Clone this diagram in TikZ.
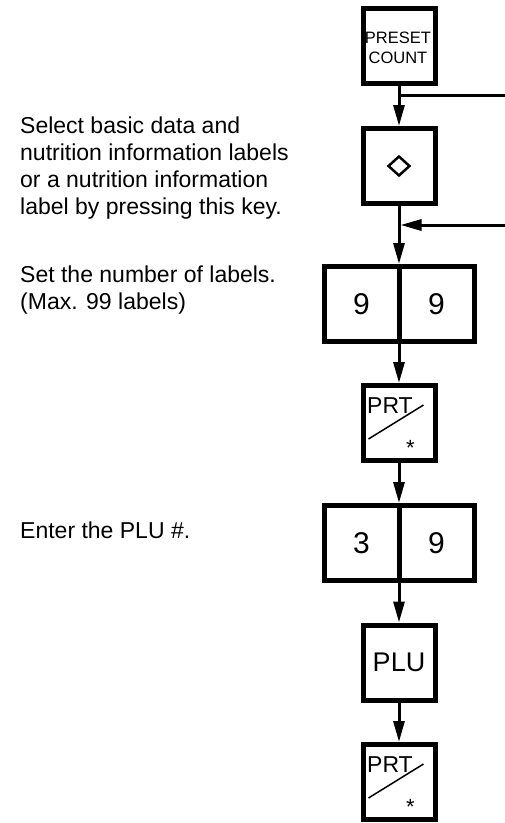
\documentclass[tikz,border=0pt]{standalone}
\usepackage{fontspec}
\setmainfont{Liberation Sans}
\usetikzlibrary{arrows.meta,shapes.geometric,calc}

\tikzset{
  key/.style={draw, line width=5pt, minimum width=72pt, minimum height=75pt, inner sep=0pt},
  halfkey/.style={draw, line width=5pt, minimum width=75pt, minimum height=75pt, inner sep=0pt,
    font=\fontsize{30}{30}\selectfont},
  flow/.style={line width=3pt, -{Triangle[length=21pt,width=11pt]}},
  note/.style={anchor=north west, align=left, inner sep=0pt, font=\fontsize{23}{27}\selectfont},
}

\begin{document}
\begin{tikzpicture}[x=1pt, y=-1pt]

  \useasboundingbox (0,0) rectangle (505,823);

  % --- PRESET COUNT ---
  \node[key] (preset) at (399,45.5) {};
  \node[align=center, inner sep=0pt, font=\fontsize{16.5}{20}\selectfont] (presett) at (398,47.5) {PRESET\\COUNT};

  % --- tasto selezione ---
  \node[key] (sel) at (399,166) {};
  \node[diamond, draw, line width=2.5pt, minimum width=22pt, minimum height=20pt, inner sep=0pt] (dia) at (sel) {};
  \node[note] (selnote) at (20,116.5) {Select basic data and\\nutrition information labels\\or a nutrition information\\label by pressing this key.};

  % --- 9 9 ---
  \node[halfkey] (n9a) at (361.5,304) {9};
  \node[halfkey] (n9b) at (436.5,304) {9};
  \node[note] (cntnote) at (20,266) {Set the number of labels.\\(Max. 99 labels)};

  % --- PRT ---
  \node[key] (prt1) at (399,423) {};
  \node[anchor=base west, inner sep=0pt, font=\fontsize{23}{23}\selectfont] (prt1t) at ($(prt1.north west)+(6.5,30)$) {PRT};
  \draw[line width=1.5pt] ($(prt1.north west)+(8,56)$) -- ($(prt1.north west)+(63,22)$);
  \node[anchor=base, inner sep=0pt, font=\fontsize{22}{22}\selectfont] (prt1s) at ($(prt1.north west)+(50,72)$) {*};

  % --- 3 9 ---
  \node[halfkey] (n3) at (361.5,543) {3};
  \node[halfkey] (n9c) at (436.5,543) {9};
  \node[note, anchor=base west] (plunote) at (20,538) {Enter the PLU \#.};

  % --- PLU ---
  \node[key, font=\fontsize{27}{27}\selectfont] (plu) at (399,662.5) {PLU};

  % --- PRT ---
  \node[key] (prt2) at (399,782) {};
  \node[anchor=base west, inner sep=0pt, font=\fontsize{23}{23}\selectfont] (prt2t) at ($(prt2.north west)+(6.5,30)$) {PRT};
  \draw[line width=1.5pt] ($(prt2.north west)+(8,56)$) -- ($(prt2.north west)+(63,22)$);
  \node[anchor=base, inner sep=0pt, font=\fontsize{22}{22}\selectfont] (prt2s) at ($(prt2.north west)+(50,72)$) {*};

  % --- frecce ---
  \coordinate (feed) at (505,95);
  \coordinate (back) at (505,225);
  \draw[line width=3pt] (feed) -- (feed -| preset.south);
  \draw[flow] (preset) -- (sel);
  \draw[flow, shorten >=1.5pt] (back) -- (back -| sel.south);
  \draw[flow] (sel) -- (sel |- n9a.north);
  \draw[flow] (sel |- n9a.south) -- (prt1);
  \draw[flow] (prt1) -- (prt1 |- n3.north);
  \draw[flow] (prt1 |- n3.south) -- (plu);
  \draw[flow] (plu) -- (prt2);

\end{tikzpicture}
\end{document}
